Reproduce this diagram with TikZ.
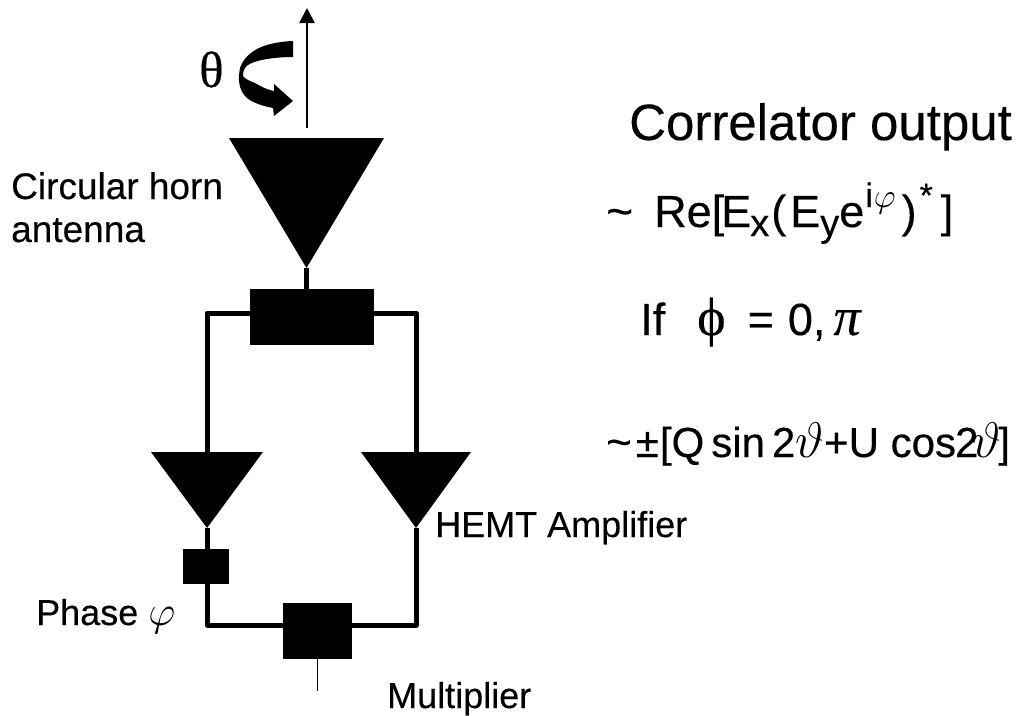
\documentclass[tikz,border=0pt]{standalone}
\usepackage{fix-cm}
\usepackage{fontspec}
\setmainfont{Liberation Sans}[UprightFeatures={FakeBold=0.3}]
\newfontfamily\greekserif{Liberation Serif}[UprightFeatures={FakeBold=0.3},ItalicFeatures={FakeBold=0.3}]
\usepackage{tikz}
\usetikzlibrary{arrows.meta,shapes.geometric}
\newcommand{\lowtxt}[1]{\raisebox{-9pt}{\fontsize{38}{38}\selectfont #1}}
\newcommand{\hightxt}[1]{\raisebox{20pt}{\fontsize{34}{34}\selectfont #1}}
\newcommand{\bigtheta}{{\fontsize{50}{50}\selectfont$\vartheta$}}
\tikzset{
  amp/.style={isosceles triangle,isosceles triangle stretches,shape border rotate=270,
    anchor=lower side,fill=black,inner sep=0pt,outer sep=0pt},
  blackbox/.style={rectangle,fill=black,inner sep=0pt,outer sep=0pt},
  lab/.style={anchor=base west,inner sep=0pt,font=\fontsize{36}{36}\selectfont},
  biglab/.style={anchor=base west,inner sep=0pt,font=\fontsize{51}{51}\selectfont},
  formula/.style={anchor=base west,inner sep=0pt,font=\fontsize{45}{45}\selectfont},
  wire/.style={line width=5pt,line join=round}
}
\begin{document}
\begin{tikzpicture}[x=1pt,y=-1pt]
    \useasboundingbox (0,0) rectangle (1016,715);
    \node[amp,minimum width=155pt,minimum height=130pt] (horn) at (306.5,138) {};
    \node[blackbox,minimum width=124pt,minimum height=56pt] (coupler) at (312,317) {};
    \node[amp,minimum width=112pt,minimum height=76pt] (ampL) at (207,452) {};
    \node[amp,minimum width=110pt,minimum height=76pt] (ampR) at (416,452) {};
    \node[blackbox,minimum width=46pt,minimum height=35pt] (phase) at (206,566.5) {};
    \node[blackbox,minimum width=69pt,minimum height=56pt] (mult) at (317.5,631) {};
    \coordinate (axis0) at (307,128);
    \coordinate (axis1) at (307,8);
    \coordinate (cplL) at (207,313);
    \coordinate (cplR) at (416,313);
    \coordinate (mulL) at (207,625);
    \coordinate (mulR) at (416,625);
    \coordinate (out) at (317.5,691);
    \draw[line width=2.5pt,-{Triangle[length=15pt,width=15pt]}] (axis0) -- (axis1);
    \draw[wire] (horn.apex) -- (coupler.north -| horn.apex);
    \draw[wire] (coupler.west |- cplL) -- (cplL) -- (ampL.lower side);
    \draw[wire] (coupler.east |- cplR) -- (cplR) -- (ampR.lower side);
    \draw[wire] (ampL.apex) -- (phase.north -| ampL.apex);
    \draw[wire] (phase.south -| mulL) -- (mulL) -- (mult.west |- mulL);
    \draw[wire] (ampR.apex) -- (mulR) -- (mult.east |- mulR);
    \draw[line width=1.5pt] (mult.south) -- (out);
    \fill[black] (293,41) .. controls (270,42) and (247,48) .. (240,68)
      .. controls (238,78) and (238,90) .. (247,98)
      .. controls (253,103) and (263,106) .. (273,108) -- (274,116) -- (293,101)
      -- (274,84) -- (274,91) .. controls (265,89) and (260,86) .. (255,83)
      .. controls (250,81) and (245,79) .. (243,76)
      .. controls (243,70) and (245,67) .. (248,65)
      .. controls (255,60) and (275,57) .. (293,57) -- cycle;
    \node[biglab] (theta) at (199,87) {\greekserif θ};
    \node[lab,font=\fontsize{37}{37}\selectfont] (hornlab) at (11,199) {Circular horn};
    \node[lab,font=\fontsize{37}{37}\selectfont] (hornlab2) at (11,242) {antenna};
    \node[lab] (hemt) at (435,537) {HEMT Amplifier};
    \node[lab] (phaselab) at (36,625) {Phase {\fontsize{42}{42}\selectfont$\varphi$}};
    \node[lab] (multlab) at (387,708) {Multiplier};
    \node[biglab] (title) at (629,140) {Correlator output};
    \node[formula,font=\fontsize{46}{46}\selectfont] (tilde1) at (606,227) {\textasciitilde};
    \node[formula] (eq1) at (654,227)
      {Re[\hspace{-3pt}E\hspace{-1pt}\lowtxt{x}\hspace{2pt}(\hspace{4pt}E\hspace{0pt}\lowtxt{y}e\hspace{1pt}\hightxt{i}\hspace{1pt}\hightxt{$\varphi$}\hspace{6pt})\hspace{3pt}\hightxt{*}\hspace{8pt}]};
    \node[formula] (eq2) at (640,335)
      {If\hspace{32pt}{\fontsize{54}{54}\selectfont\greekserif ϕ}\hspace{22pt}=\hspace{14pt}0,\hspace{8pt}{\fontsize{54}{54}\selectfont\greekserif\itshape π}};
    \node[formula,font=\fontsize{42}{42}\selectfont] (eq3) at (606,457)
      {\fontsize{44}{44}\selectfont\textasciitilde\fontsize{42}{42}\selectfont\hspace{4pt}±\hspace{1pt}[Q\,sin\,2\bigtheta+U cos\hspace{-1pt}2\hspace{-6pt}\bigtheta\hspace{-3pt}]};
  \end{tikzpicture}
\end{document}
